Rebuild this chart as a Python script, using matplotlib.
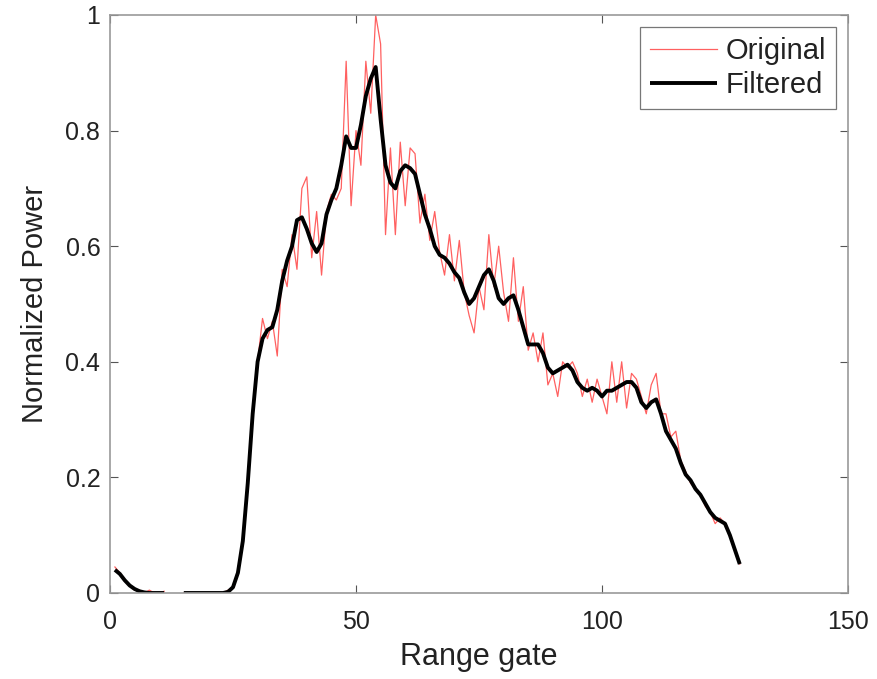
import numpy as np
import matplotlib
matplotlib.use("Agg")
import matplotlib.pyplot as plt

nan = np.nan
gates = np.arange(1, 129)

filtered = [
    0.040, 0.033, 0.022, 0.013, 0.007, 0.003, 0.001, 0.000, 0.000, 0.000,
    0.000, nan, nan, nan, 0.000, 0.000, 0.000, 0.000, 0.000, 0.000,
    0.000, 0.000, 0.000, 0.002, 0.010, 0.035, 0.090, 0.190, 0.310, 0.400,
    0.440, 0.455, 0.460, 0.490, 0.540, 0.575, 0.600, 0.645, 0.650, 0.630,
    0.605, 0.590, 0.605, 0.655, 0.680, 0.700, 0.740, 0.790, 0.770, 0.770,
    0.810, 0.860, 0.890, 0.910, 0.820, 0.740, 0.710, 0.700, 0.730, 0.740,
    0.735, 0.725, 0.690, 0.655, 0.630, 0.600, 0.585, 0.580, 0.570, 0.555,
    0.545, 0.520, 0.500, 0.510, 0.530, 0.550, 0.560, 0.540, 0.510, 0.500,
    0.510, 0.515, 0.490, 0.460, 0.430, 0.430, 0.430, 0.415, 0.390, 0.380,
    0.385, 0.390, 0.395, 0.385, 0.365, 0.355, 0.350, 0.355, 0.350, 0.340,
    0.350, 0.350, 0.355, 0.360, 0.365, 0.365, 0.355, 0.330, 0.320, 0.330,
    0.335, 0.310, 0.280, 0.265, 0.250, 0.225, 0.205, 0.195, 0.180, 0.170,
    0.155, 0.140, 0.130, 0.125, 0.120, 0.100, 0.075, 0.050,
]

original = [
    0.045, 0.035, 0.020, 0.012, 0.005, 0.005, 0.000, 0.005, 0.000, 0.000,
    0.003, nan, nan, nan, 0.000, 0.000, 0.000, 0.000, 0.000, 0.000,
    0.000, 0.000, 0.000, 0.005, 0.010, 0.040, 0.090, 0.190, 0.310, 0.400,
    0.475, 0.440, 0.470, 0.410, 0.560, 0.530, 0.620, 0.560, 0.700, 0.720,
    0.580, 0.660, 0.550, 0.660, 0.690, 0.680, 0.700, 0.920, 0.670, 0.800,
    0.740, 0.920, 0.830, 1.000, 0.950, 0.620, 0.770, 0.620, 0.780, 0.670,
    0.770, 0.760, 0.640, 0.690, 0.610, 0.660, 0.590, 0.550, 0.620, 0.540,
    0.610, 0.520, 0.480, 0.450, 0.530, 0.490, 0.620, 0.530, 0.600, 0.520,
    0.470, 0.580, 0.470, 0.530, 0.420, 0.450, 0.400, 0.450, 0.360, 0.380,
    0.340, 0.400, 0.390, 0.400, 0.380, 0.340, 0.370, 0.330, 0.370, 0.340,
    0.310, 0.400, 0.330, 0.400, 0.320, 0.380, 0.370, 0.340, 0.310, 0.360,
    0.380, 0.310, 0.310, 0.270, 0.280, 0.230, 0.210, 0.190, 0.180, 0.170,
    0.150, 0.140, 0.120, 0.130, 0.120, 0.100, 0.075, 0.050,
]

xticks = [0, 50, 100, 150]
yticks = [0, 0.2, 0.4, 0.6, 0.8, 1]
ytick_labels = ["0", "0.2", "0.4", "0.6", "0.8", "1"]

plt.rcParams['font.family'] = ['Liberation Sans', 'DejaVu Sans']

fig = plt.figure(figsize=(8.77, 6.79), dpi=100)
ax = fig.add_axes([110/877, 1 - 593/679, (848 - 110)/877, (593 - 15)/679])

ax.plot(gates, original, color='#ff6060', lw=0.9, label='Original')
ax.plot(gates, filtered, color='black', lw=2.8, label='Filtered',
        solid_joinstyle='round', solid_capstyle='butt')

ax.set_xlim(0, 150)
ax.set_ylim(0, 1)
ax.set_xticks(xticks)
ax.set_yticks(yticks)
ax.set_yticklabels(ytick_labels)
ax.tick_params(direction='in', top=True, right=True, length=6, width=0.8,
               colors='#555555', labelcolor='#222222', labelsize=18, pad=7)
ax.tick_params(axis='x', pad=12)
for s in ax.spines.values():
    s.set_color('#999999')
    s.set_linewidth(1.2)

ax.set_xlabel('Range gate', fontsize=22, color='#222222', labelpad=6)
ax.set_ylabel('Normalized Power', fontsize=21, color='#222222', labelpad=12)

leg = ax.legend(loc='upper right', fontsize=21, frameon=True, fancybox=False,
                borderaxespad=0.4, handlelength=2.3, handletextpad=0.3,
                labelspacing=0.2, borderpad=0.35)
leg.get_frame().set_edgecolor('#555555')
leg.get_frame().set_linewidth(0.9)
for t in leg.get_texts():
    t.set_color('#222222')

fig.savefig('out.png', dpi=100)
